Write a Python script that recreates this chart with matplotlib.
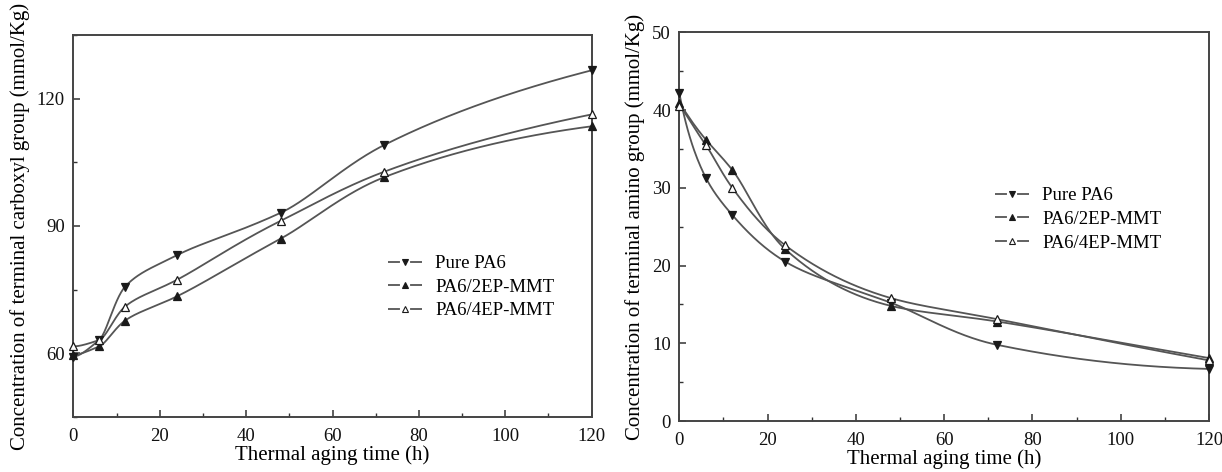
import numpy as np
import matplotlib
matplotlib.use("Agg")
import matplotlib.pyplot as plt
from matplotlib.ticker import MultipleLocator

plt.rcParams['font.family'] = ['Liberation Serif', 'DejaVu Serif']
plt.rcParams['lines.scale_dashes'] = False

# aging time (h)
hours = [0, 6, 12, 24, 48, 72, 120]

# terminal carboxyl group (mmol/Kg)
carboxyl_pure = [59.2, 63.1, 75.7, 83.1, 93.1, 109.1, 126.7]
carboxyl_2ep = [59.6, 61.6, 67.7, 73.4, 87.0, 101.5, 113.5]
carboxyl_4ep = [61.6, 63.1, 71.0, 77.3, 91.2, 102.8, 116.3]

# terminal amino group (mmol/Kg)
amino_pure = [42.2, 31.3, 26.5, 20.5, 15.2, 9.8, 6.7]
amino_2ep = [40.9, 36.2, 32.3, 22.1, 14.8, 12.8, 8.1]
amino_4ep = [40.5, 35.5, 30.0, 22.6, 15.8, 13.1, 7.8]

labels = ['Pure PA6', 'PA6/2EP-MMT', 'PA6/4EP-MMT']


def smooth(x, y, xs):
    # monotone cubic (pchip) on log(t + 6), keeps the curve from
    # overshooting between the unevenly spaced aging times
    u = np.log(np.asarray(x, float) + 6)
    us = np.log(xs + 6)
    y = np.asarray(y, float)
    h = np.diff(u)
    d = np.diff(y) / h
    n = len(u)
    m = np.zeros(n)
    for k in range(1, n - 1):
        if d[k - 1] * d[k] > 0:
            w1 = 2 * h[k] + h[k - 1]
            w2 = h[k] + 2 * h[k - 1]
            m[k] = (w1 + w2) / (w1 / d[k - 1] + w2 / d[k])
    m[0] = ((2 * h[0] + h[1]) * d[0] - h[0] * d[1]) / (h[0] + h[1])
    if np.sign(m[0]) != np.sign(d[0]):
        m[0] = 0
    m[-1] = ((2 * h[-1] + h[-2]) * d[-1] - h[-1] * d[-2]) / (h[-1] + h[-2])
    if np.sign(m[-1]) != np.sign(d[-1]):
        m[-1] = 0
    idx = np.clip(np.searchsorted(u, us) - 1, 0, n - 2)
    t = (us - u[idx]) / h[idx]
    h00 = 2 * t ** 3 - 3 * t ** 2 + 1
    h10 = t ** 3 - 2 * t ** 2 + t
    h01 = -2 * t ** 3 + 3 * t ** 2
    h11 = t ** 3 - t ** 2
    return h00 * y[idx] + h10 * h[idx] * m[idx] + h01 * y[idx + 1] + h11 * h[idx] * m[idx + 1]


line_c = '#555555'
mark_c = '#1a1a1a'
styles = [
    dict(marker='v', mfc=mark_c, mec=mark_c),
    dict(marker='^', mfc=mark_c, mec=mark_c),
    dict(marker='^', mfc='white', mec=mark_c),
]

fig = plt.figure(figsize=(12.22, 4.72), dpi=100)
ax1 = fig.add_axes([0.060, 0.117, 0.4242, 0.8086])
ax2 = fig.add_axes([0.5559, 0.108, 0.4335, 0.8236])

xs = np.linspace(0, 120, 500)


def draw(ax, series):
    for vals, lab, st in zip(series, labels, styles):
        ax.plot(xs, smooth(hours, vals, xs), color=line_c, lw=1.3, zorder=2)
        ax.plot(hours, vals, ls='none', ms=5.5, mew=0.9, zorder=3, clip_on=False, **st)
        # legend handle: "—▼—"
        ax.plot([], [], color=line_c, lw=1.3, ls=(0, (8.6, 7.3)), ms=4.5, mew=0.8,
                label=lab, **st)


draw(ax1, [carboxyl_pure, carboxyl_2ep, carboxyl_4ep])
draw(ax2, [amino_pure, amino_2ep, amino_4ep])

ax1.set_xlim(0, 120)
ax1.set_ylim(45, 135)
ax1.yaxis.set_major_locator(MultipleLocator(30))
ax1.yaxis.set_minor_locator(MultipleLocator(15))
ax1.set_ylabel('Concentration of terminal carboxyl group (mmol/Kg)', fontsize=15, labelpad=5)

ax2.set_xlim(0, 120)
ax2.set_ylim(0, 50)
ax2.yaxis.set_major_locator(MultipleLocator(10))
ax2.yaxis.set_minor_locator(MultipleLocator(5))
ax2.set_ylabel('Concentration of terminal amino group (mmol/Kg)', fontsize=15, labelpad=5)

for ax in (ax1, ax2):
    ax.xaxis.set_major_locator(MultipleLocator(20))
    ax.xaxis.set_minor_locator(MultipleLocator(10))
    ax.set_xlabel('Thermal aging time (h)', fontsize=15, labelpad=0)
    ax.tick_params(which='both', direction='in', top=False, right=False,
                   labelsize=13.5, colors='#333333', labelcolor='#111111')
    ax.tick_params(which='major', length=5, width=1.1, pad=6)
    ax.tick_params(axis='x', which='major', pad=8)
    ax.tick_params(which='minor', length=3, width=1.0)
    for sp in ax.spines.values():
        sp.set_color('#444444')
        sp.set_linewidth(1.4)

leg_kw = dict(loc='upper left', frameon=False, fontsize=13.5, handlelength=1.81,
              handletextpad=0.7, labelspacing=0.35, borderpad=0, borderaxespad=0)
ax1.legend(bbox_to_anchor=(0.607, 0.424), **leg_kw)
ax2.legend(bbox_to_anchor=(0.596, 0.602), **leg_kw)

fig.savefig('out.png', dpi=100)
